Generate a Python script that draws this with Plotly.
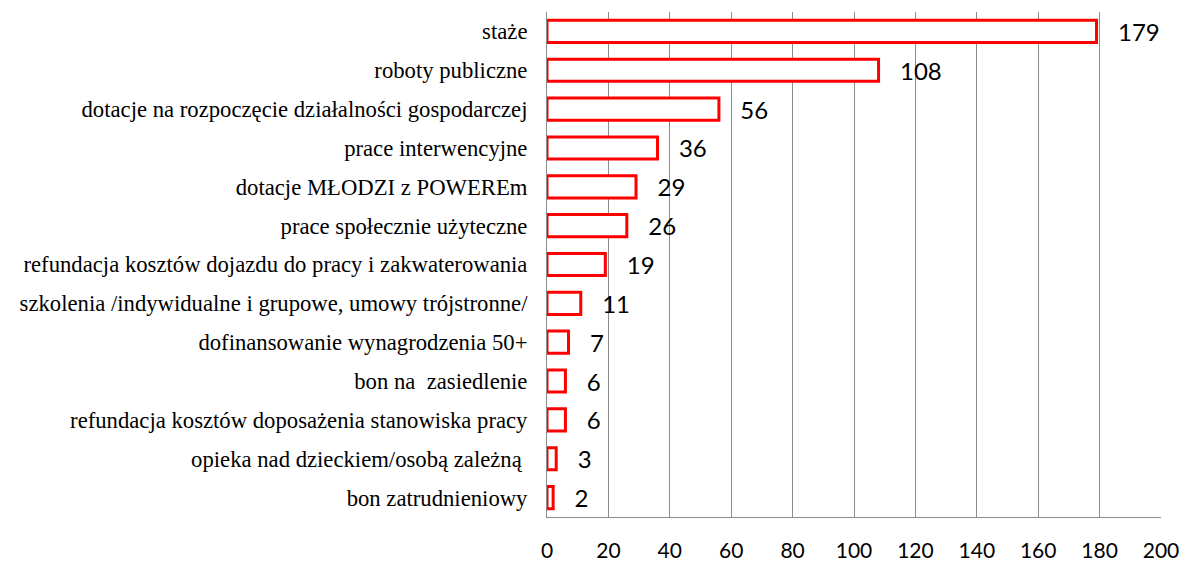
import plotly.graph_objects as go

categories = [
    "staże",
    "roboty publiczne",
    "dotacje na rozpoczęcie działalności gospodarczej",
    "prace interwencyjne",
    "dotacje MŁODZI z POWEREm",
    "prace społecznie użyteczne",
    "refundacja kosztów dojazdu do pracy i zakwaterowania",
    "szkolenia /indywidualne i grupowe, umowy trójstronne/",
    "dofinansowanie wynagrodzenia 50+",
    "bon na  zasiedlenie",
    "refundacja kosztów doposażenia stanowiska pracy",
    "opieka nad dzieckiem/osobą zależną ",
    "bon zatrudnieniowy",
]
values = [179, 108, 56, 36, 29, 26, 19, 11, 7, 6, 6, 3, 2]
x_ticks = [0, 20, 40, 60, 80, 100, 120, 140, 160, 180, 200]

fig = go.Figure(
    go.Bar(
        x=values,
        y=categories,
        orientation="h",
        marker=dict(color="white", line=dict(color="#FF0000", width=3)),
        text=["   " + str(v) for v in values],
        textposition="outside",
        constraintext="none",
        textfont=dict(family="Lato", size=24, color="black"),
        cliponaxis=False,
        width=0.57,
    )
)

fig.update_layout(
    width=1183,
    height=553,
    margin=dict(l=539, r=30, t=4, b=44),
    paper_bgcolor="white",
    plot_bgcolor="white",
    showlegend=False,
    xaxis=dict(
        range=[0, 200],
        tickvals=x_ticks,
        showgrid=True,
        gridcolor="#8c8c8c",
        gridwidth=1,
        showline=True,
        linecolor="#8c8c8c",
        linewidth=1,
        mirror=False,
        zeroline=False,
        automargin=False,
        tickfont=dict(family="Lato", size=21, color="black"),
        ticks="",
        ticklabelstandoff=15,
    ),
    yaxis=dict(
        autorange="reversed",
        showline=True,
        linecolor="#8c8c8c",
        linewidth=1,
        showgrid=False,
        automargin=False,
        ticks="",
        tickfont=dict(family="Liberation Serif", size=22.7, color="black"),
        ticklabelstandoff=14,
    ),
)

fig.write_html("out.html")
